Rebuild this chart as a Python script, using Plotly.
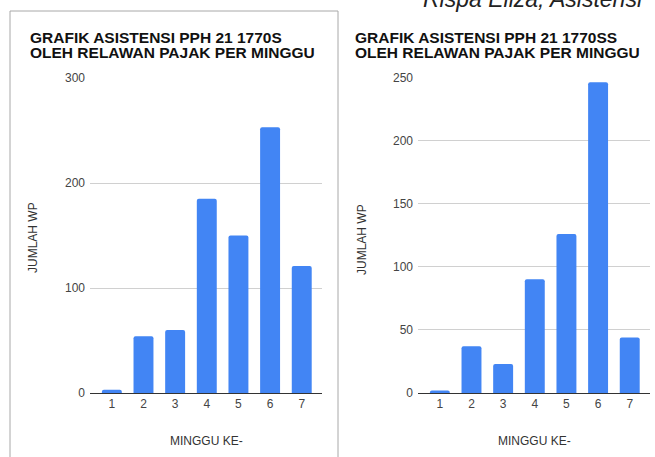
import plotly.graph_objects as go

W, H = 655, 457

weeks = [1, 2, 3, 4, 5, 6, 7]
week_labels = ["1", "2", "3", "4", "5", "6", "7"]
wp_1770s = [3, 54, 60, 185, 150, 253, 121]
wp_1770ss = [2, 37, 23, 90, 126, 246, 44]

title_left = ["GRAFIK ASISTENSI PPH 21 1770S", "OLEH RELAWAN PAJAK PER MINGGU"]
title_right = ["GRAFIK ASISTENSI PPH 21 1770SS", "OLEH RELAWAN PAJAK PER MINGGU"]
x_title = "MINGGU KE-"
y_title = "JUMLAH WP"
caption = "Rispa Eliza, Asistensi"

BLUE = "#4285F4"
FONT = "Liberation Sans, Arial, sans-serif"


def px(x):
    return x / W


def py(y):
    return 1 - y / H


fig = go.Figure()
fig.add_trace(go.Bar(x=weeks, y=wp_1770s, marker_color=BLUE, xaxis="x", yaxis="y",
                     hoverinfo="x+y", showlegend=False))
fig.add_trace(go.Bar(x=weeks, y=wp_1770ss, marker_color=BLUE, xaxis="x2", yaxis="y2",
                     hoverinfo="x+y", showlegend=False))

xcommon = dict(
    range=[0.31, 7.64], tickmode="array", tickvals=weeks, ticktext=week_labels,
    showgrid=False, zeroline=False, showline=True, linecolor="#333333", linewidth=1,
    ticks="", tickfont=dict(family=FONT, size=12, color="#444444"), fixedrange=True,
    automargin=False,
)
ycommon = dict(
    showgrid=True, gridcolor="#d0d0d0", gridwidth=1, zeroline=False, showline=False,
    ticks="", tickfont=dict(family=FONT, size=12, color="#444444"),
    ticklabelstandoff=4, fixedrange=True, automargin=False,
)

fig.update_layout(
    template="none",
    width=W, height=H, autosize=False,
    margin=dict(l=0, r=0, t=0, b=0, pad=0),
    paper_bgcolor="white", plot_bgcolor="white",
    bargap=0.37, barcornerradius=2,
    xaxis=dict(domain=[px(90), px(322)], anchor="y", **xcommon),
    yaxis=dict(domain=[py(393), py(78)], anchor="x", range=[0, 300],
               tickvals=[0, 100, 200, 300], **ycommon),
    xaxis2=dict(domain=[px(418), px(650)], anchor="y2", **xcommon),
    yaxis2=dict(domain=[py(393), py(77.3)], anchor="x2", range=[0, 250],
                tickvals=[0, 50, 100, 150, 200, 250], **ycommon),
)

border = dict(color="#a8a8a8", width=1)
shapes = [
    dict(type="line", xref="paper", yref="paper", x0=px(10), x1=px(10), y0=py(11), y1=py(460), line=border),
    dict(type="line", xref="paper", yref="paper", x0=px(10), x1=px(338), y0=py(11), y1=py(11), line=border),
    dict(type="line", xref="paper", yref="paper", x0=px(338), x1=px(338), y0=py(11), y1=py(460), line=border),
]
fig.update_layout(shapes=shapes)

ann = []
for x0, lines in ((29, title_left), (354, title_right)):
    for i, line in enumerate(lines):
        ann.append(dict(text="<b>%s</b>" % line, x=px(x0), y=py(37 + 15 * i), xref="paper", yref="paper",
                        xanchor="left", yanchor="middle", showarrow=False, height=14, borderpad=0,
                        valign="middle", font=dict(family=FONT, size=15.5, color="#111111")))
for cx in (206, 534):
    ann.append(dict(text=x_title, x=px(cx), y=py(441), xref="paper", yref="paper",
                    xanchor="center", yanchor="middle", showarrow=False,
                    font=dict(family=FONT, size=12, color="#333333")))
for cx, cy in ((33, 238), (362, 240)):
    ann.append(dict(text=y_title, x=px(cx), y=py(cy), xref="paper", yref="paper",
                    xanchor="center", yanchor="middle", textangle=-90, showarrow=False,
                    font=dict(family=FONT, size=12, color="#333333")))
ann.append(dict(text="<i>%s</i>" % caption, x=px(421), y=py(14), xref="paper", yref="paper",
                xanchor="left", yanchor="bottom", showarrow=False,
                font=dict(family=FONT, size=23, color="#222222")))
fig.update_layout(annotations=ann)

fig.write_html("out.html", config={"displayModeBar": False},
               post_script="document.body.style.margin='0px';document.body.style.overflow='hidden';")
